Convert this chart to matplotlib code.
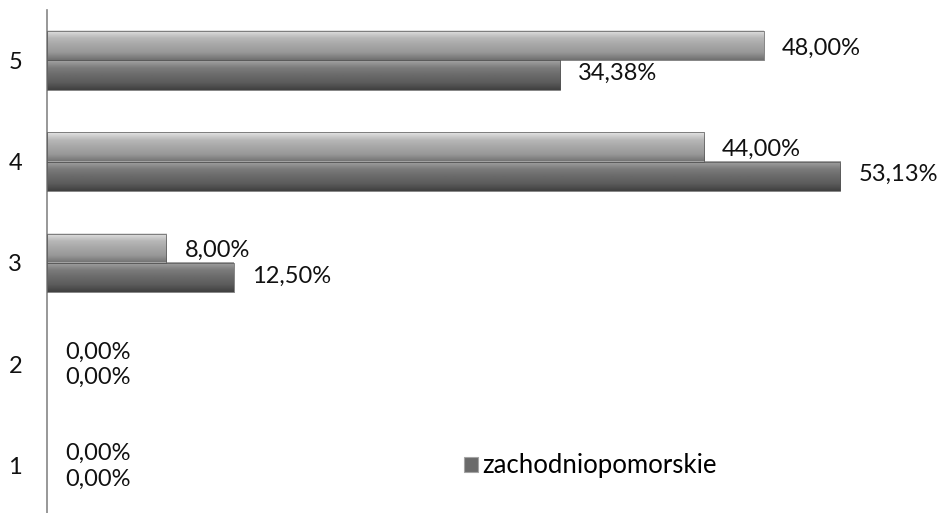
import numpy as np
import matplotlib
matplotlib.use("Agg")
import matplotlib.pyplot as plt
from matplotlib.colors import LinearSegmentedColormap
from matplotlib.patches import Rectangle

# ── Data ──────────────────────────────────────────────────────────────────────
categories = ["1", "2", "3", "4", "5"]
series_a = [0.0, 0.0, 0.08, 0.44, 0.48]          # light bars (upper)
series_b = [0.0, 0.0, 0.125, 0.5313, 0.3438]     # dark bars (lower)
legend_name = "zachodniopomorskie"

# ── Style ─────────────────────────────────────────────────────────────────────
plt.rcParams["font.family"] = ["Lato", "DejaVu Sans"]
FS = 17
LIGHT = LinearSegmentedColormap.from_list(
    "light", ["#e4e4e4", "#b8b8b8", "#a6a6a6", "#989898", "#707070"])
DARK = LinearSegmentedColormap.from_list(
    "dark", ["#a4a4a4", "#7c7c7c", "#6a6a6a", "#5c5c5c", "#404040"])
GRAD = np.linspace(0, 1, 64).reshape(-1, 1)

W, H = 943, 513
fig = plt.figure(figsize=(W / 100, H / 100), dpi=100, facecolor="white")
ax = fig.add_axes([47 / W, -3.5 / H, 1 - 47 / W, 507 / H])

BAR_H = 0.29
y = np.arange(1, len(categories) + 1)


def grad_bar(ax, yc, val, cmap, top):
    """Horizontal bar filled with a vertical shading gradient."""
    if val <= 0:
        return
    y0, y1 = (yc, yc + BAR_H) if top else (yc - BAR_H, yc)
    ax.imshow(GRAD, cmap=cmap, aspect="auto", interpolation="bilinear",
              extent=[0, val, y0, y1], origin="upper", zorder=2)
    ax.add_patch(Rectangle((0, y0), val, y1 - y0, fill=False,
                           edgecolor="#555555", linewidth=0.5, zorder=3))


def pct(v):
    return f"{v * 100:.2f}%".replace(".", ",")


for yc, a, b in zip(y, series_a, series_b):
    grad_bar(ax, yc, a, LIGHT, top=True)
    grad_bar(ax, yc, b, DARK, top=False)
    ax.text(a + 0.012, yc + BAR_H * 0.42, pct(a),
            va="center", ha="left", fontsize=FS, color="#111111")
    ax.text(b + 0.012, yc - BAR_H * 0.45, pct(b),
            va="center", ha="left", fontsize=FS, color="#111111")

ax.set_xlim(0, 0.6)
ax.set_ylim(0.5, len(categories) + 0.5)
ax.set_yticks(y)
ax.set_yticklabels(categories, fontsize=FS, color="#111111")
ax.tick_params(axis="y", length=0, pad=18)
ax.set_xticks([])
for side in ("top", "right", "bottom"):
    ax.spines[side].set_visible(False)
ax.spines["left"].set_color("#868686")
ax.spines["left"].set_linewidth(1.2)

# legend: only the dark series carries a name
proxy = Rectangle((0, 0), 1, 1, facecolor="#6a6a6a", edgecolor="#a4a4a4",
                  linewidth=0.8)
fig.legend([proxy], [legend_name], loc="center left",
           bbox_to_anchor=(464 / W, 1 - 466 / H), frameon=False,
           fontsize=18.5, handlelength=0.55, handleheight=0.55,
           handletextpad=0.15, borderpad=0, borderaxespad=0)

fig.savefig("out.png", dpi=100, facecolor="white")
